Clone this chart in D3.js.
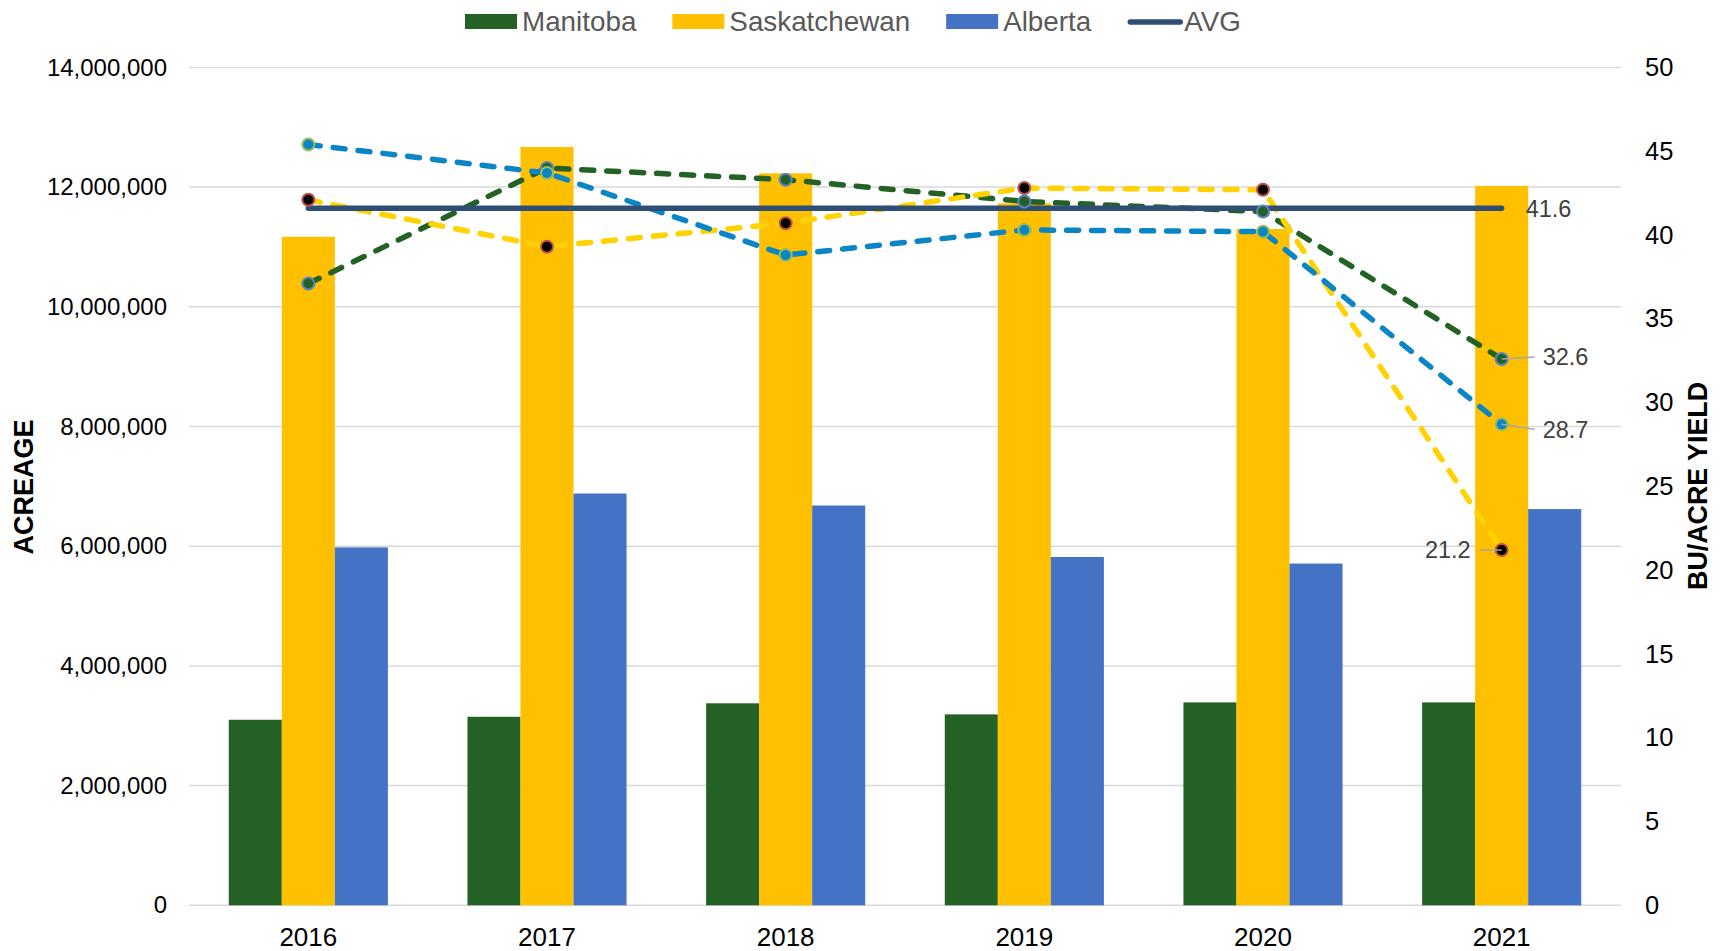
<!DOCTYPE html>
<html>
<head>
<meta charset="utf-8">
<script src="https://cdn.jsdelivr.net/npm/d3@7"></script>
<style>
  html, body { margin: 0; padding: 0; background: #fff; }
  svg { display: block; font-family: "Liberation Sans", Arial, sans-serif; }
</style>
</head>
<body>
<script>
// chart data
const years = ['2016', '2017', '2018', '2019', '2020', '2021'];
const provinces = ['Manitoba', 'Saskatchewan', 'Alberta'];

const acreManitoba = [3100000, 3150000, 3375000, 3190000, 3390000, 3390000];
const acreSask = [11170000, 12670000, 12230000, 11730000, 11300000, 12020000];
const acreAlberta = [5980000, 6880000, 6680000, 5820000, 5710000, 6620000];

const yieldManitoba = [37.1, 44.0, 43.3, 42.0, 41.4, 32.6];
const yieldSask = [42.1, 39.3, 40.7, 42.8, 42.7, 21.2];
const yieldAlberta = [45.4, 43.7, 38.8, 40.3, 40.2, 28.7];
const avgYield = 41.6;

const leftTicks = [0, 2000000, 4000000, 6000000, 8000000, 10000000, 12000000, 14000000];
const rightTicks = [0, 5, 10, 15, 20, 25, 30, 35, 40, 45, 50];

const barColors = { Manitoba: '#236224', Saskatchewan: '#FFC000', Alberta: '#4472C4' };
const avgColor = '#2E4E76';

const W = 1723, H = 951;
const plotL = 189, plotR = 1621, plotT = 67.4, plotB = 905.3;

const svg = d3.select('body').append('svg')
    .attr('width', W)
    .attr('height', H);

const x = d3.scaleBand().domain(years).range([plotL, plotR])
    .paddingInner(1 / 3).paddingOuter(1 / 6);
const xSub = d3.scaleBand().domain(provinces).range([0, x.bandwidth()]);
const yL = d3.scaleLinear().domain([0, 14000000]).range([plotB, plotT]);
const yR = d3.scaleLinear().domain([0, 50]).range([plotB, plotT]);
const cx = d => x(d) + x.bandwidth() / 2;

// gridlines
svg.append('g').selectAll('line')
    .data(leftTicks)
    .join('line')
    .attr('x1', plotL).attr('x2', plotR)
    .attr('y1', d => yL(d)).attr('y2', d => yL(d))
    .attr('stroke', '#D9D9D9')
    .attr('stroke-width', 1.5);

// bars
const acreage = { Manitoba: acreManitoba, Saskatchewan: acreSask, Alberta: acreAlberta };
provinces.forEach(p => {
    svg.append('g').selectAll('rect')
        .data(years.map((yr, i) => ({ yr, v: acreage[p][i] })))
        .join('rect')
        .attr('x', d => x(d.yr) + xSub(p))
        .attr('width', xSub.bandwidth())
        .attr('y', d => yL(d.v))
        .attr('height', d => plotB - yL(d.v))
        .attr('fill', barColors[p]);
});

// axes
const leftAxis = svg.append('g')
    .attr('transform', `translate(${plotL},0)`)
    .call(d3.axisLeft(yL).tickValues(leftTicks).tickFormat(d3.format(',')).tickSize(0).tickPadding(22));
const rightAxis = svg.append('g')
    .attr('transform', `translate(${plotR},0)`)
    .call(d3.axisRight(yR).tickValues(rightTicks).tickSize(0).tickPadding(24));
const bottomAxis = svg.append('g')
    .attr('transform', `translate(0,${plotB})`)
    .call(d3.axisBottom(x).tickSize(0).tickPadding(22.5));

[leftAxis, rightAxis, bottomAxis].forEach(a => {
    a.select('.domain').remove();
    a.selectAll('text').attr('fill', '#000').style('font-family', '"Liberation Sans", Arial, sans-serif');
});
leftAxis.selectAll('text').style('font-size', '24px');
rightAxis.selectAll('text').style('font-size', '25.5px');
bottomAxis.selectAll('text').style('font-size', '26px');

// yield lines
const yieldSeries = [
    { name: 'Manitoba', values: yieldManitoba, color: '#236224', fill: '#236224', stroke: '#5A83C6' },
    { name: 'Saskatchewan', values: yieldSask, color: '#FFD200', fill: '#000000', stroke: '#C0504D' },
    { name: 'Alberta', values: yieldAlberta, color: '#0A86C6', fill: '#0A86C6', stroke: '#9BBB59' }
];

const line = d3.line()
    .x((d, i) => cx(years[i]))
    .y(d => yR(d));

yieldSeries.forEach(s => {
    svg.append('path')
        .datum(s.values)
        .attr('fill', 'none')
        .attr('stroke', s.color)
        .attr('stroke-width', 5.5)
        .attr('stroke-dasharray', '12,13')
        .attr('stroke-linecap', 'round')
        .attr('d', line);
});

// average line
svg.append('line')
    .attr('x1', cx(years[0])).attr('x2', cx(years[years.length - 1]))
    .attr('y1', yR(avgYield)).attr('y2', yR(avgYield))
    .attr('stroke', avgColor)
    .attr('stroke-width', 5.5)
    .attr('stroke-linecap', 'round');

yieldSeries.forEach(s => {
    svg.append('g').selectAll('circle')
        .data(s.values)
        .join('circle')
        .attr('cx', (d, i) => cx(years[i]))
        .attr('cy', d => yR(d))
        .attr('r', 6)
        .attr('fill', s.fill)
        .attr('stroke', s.stroke)
        .attr('stroke-width', 2);
});

// data labels for 2021
const last = years.length - 1;
const lx = cx(years[last]);
const labelStyle = sel => sel
    .style('font-size', '23.5px')
    .attr('fill', '#404040');

svg.append('text')
    .attr('x', lx + 24)
    .attr('y', yR(avgYield) + 8.5)
    .text(avgYield.toFixed(1))
    .call(labelStyle);

const callouts = [
    { v: yieldManitoba[last], dx: 41, dy: -2, anchor: 'start' },
    { v: yieldAlberta[last], dx: 41, dy: 5, anchor: 'start' },
    { v: yieldSask[last], dx: -31, dy: 0, anchor: 'end' }
];
callouts.forEach(c => {
    const y0 = yR(c.v);
    const xe = c.dx > 0 ? lx + c.dx - 8 : lx + c.dx + 9;
    svg.append('line')
        .attr('x1', lx).attr('y1', y0)
        .attr('x2', xe).attr('y2', y0 + c.dy)
        .attr('stroke', '#A6A6A6')
        .attr('stroke-width', 1.5);
    svg.append('text')
        .attr('x', lx + c.dx)
        .attr('y', y0 + c.dy)
        .attr('dy', '0.35em')
        .attr('text-anchor', c.anchor)
        .text(c.v.toFixed(1))
        .call(labelStyle);
});

// axis titles
svg.append('text')
    .attr('transform', 'translate(24,487) rotate(-90)')
    .attr('text-anchor', 'middle')
    .attr('dy', '0.35em')
    .style('font-size', '27px')
    .style('font-weight', 'bold')
    .text('ACREAGE');
svg.append('text')
    .attr('transform', 'translate(1698,486) rotate(-90)')
    .attr('text-anchor', 'middle')
    .attr('dy', '0.35em')
    .style('font-size', '26.8px')
    .style('font-weight', 'bold')
    .text('BU/ACRE YIELD');

// legend
const legendItems = provinces.map(p => ({ name: p, type: 'rect', color: barColors[p] }))
    .concat([{ name: 'AVG', type: 'line', color: avgColor }]);
let lxPos = 465;
const legend = svg.append('g');
legendItems.forEach(item => {
    if (item.type === 'rect') {
        legend.append('rect')
            .attr('x', lxPos).attr('y', 14)
            .attr('width', 52).attr('height', 15)
            .attr('fill', item.color);
    } else {
        legend.append('line')
            .attr('x1', lxPos + 3).attr('x2', lxPos + 53)
            .attr('y1', 22).attr('y2', 22)
            .attr('stroke', item.color)
            .attr('stroke-width', 5.5)
            .attr('stroke-linecap', 'round');
    }
    const t = legend.append('text')
        .attr('x', lxPos + 57)
        .attr('y', 31)
        .attr('fill', '#595959')
        .style('font-size', '27.8px')
        .text(item.name);
    lxPos += 57 + t.node().getComputedTextLength() + 36;
});
</script>
</body>
</html>
